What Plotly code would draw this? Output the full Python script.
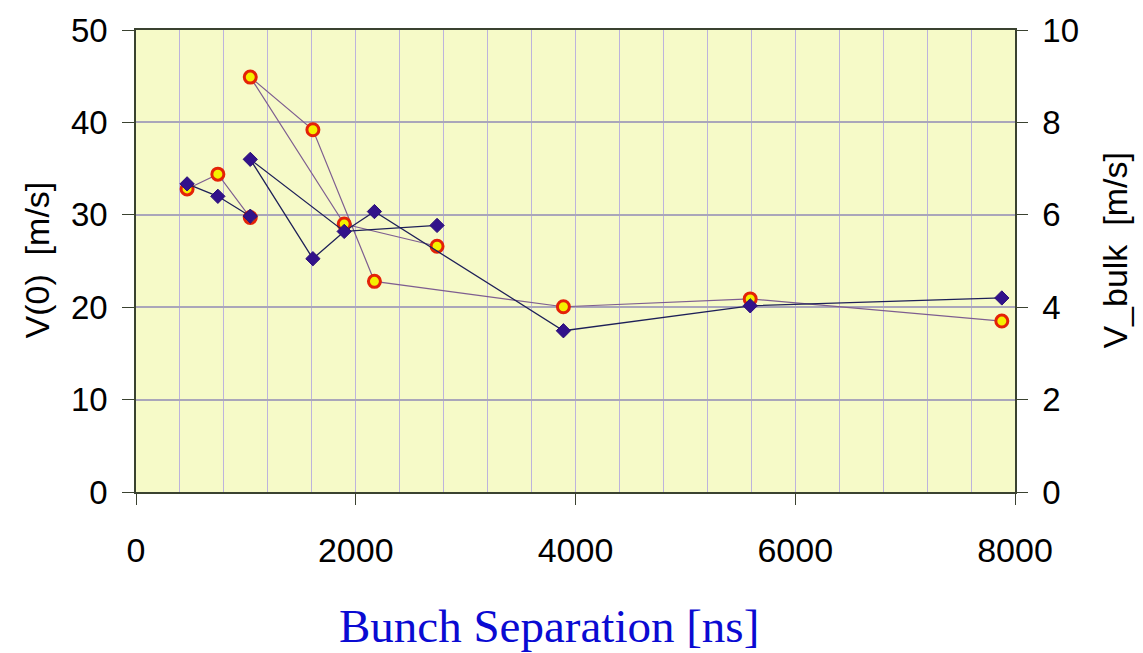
import plotly.graph_objects as go

# ---- data ----
bunch_sep_ns = [465, 745, 1040, 1040, 1610, 1895, 2170, 2740, 3890, 5590, 7880]
v0_ms = [32.8, 34.4, 29.7, 44.9, 39.2, 29.0, 22.8, 26.6, 20.05, 20.9, 18.5]
vbulk_ms = [6.67, 6.40, 5.97, 7.20, 5.05, 5.64, 6.07, 5.77, 3.49, 4.03, 4.20]

# connection paths (indices into the arrays above)
v0_paths = [[0, 1, 2], [3, 4, 6, 8, 9, 10], [3, 5, 7]]
vbulk_paths = [[0, 1, 2], [3, 4, 5, 6, 8, 9, 10], [3, 5, 7]]

x_ticks = [0, 2000, 4000, 6000, 8000]
y_left_ticks = [0, 10, 20, 30, 40, 50]
y_right_ticks = [0, 2, 4, 6, 8, 10]


def path_xy(xs, ys, paths):
    px, py = [], []
    for p in paths:
        for i in p:
            px.append(xs[i])
            py.append(ys[i])
        px.append(None)
        py.append(None)
    return px, py


FONT = "Liberation Sans, Arial, sans-serif"
AXIS_COL = "#3a4230"
VGRID = "#bdb3dc"

fig = go.Figure()

lx, ly = path_xy(bunch_sep_ns, v0_ms, v0_paths)
fig.add_trace(go.Scatter(x=lx, y=ly, mode="lines", yaxis="y",
                         line=dict(color="#7e5e90", width=1.2),
                         hoverinfo="skip", showlegend=False))
fig.add_trace(go.Scatter(x=bunch_sep_ns, y=v0_ms, mode="markers", yaxis="y",
                         name="V(0)",
                         marker=dict(symbol="circle", size=12, color="#f4f000",
                                     line=dict(color="#e42208", width=3)),
                         showlegend=False))

bx, by = path_xy(bunch_sep_ns, vbulk_ms, vbulk_paths)
fig.add_trace(go.Scatter(x=bx, y=by, mode="lines", yaxis="y2",
                         line=dict(color="#1e2058", width=1.3),
                         hoverinfo="skip", showlegend=False))
fig.add_trace(go.Scatter(x=bunch_sep_ns, y=vbulk_ms, mode="markers", yaxis="y2",
                         name="V_bulk",
                         marker=dict(symbol="diamond", size=11, color="#32128a",
                                     line=dict(color="#2a0e78", width=1)),
                         showlegend=False))

fig.update_layout(
    width=1143, height=653,
    margin=dict(l=136, r=128, t=25, b=161, pad=0),
    paper_bgcolor="white",
    plot_bgcolor="#f6fac8",
    font=dict(family=FONT, color="black", size=33),
    showlegend=False,
    xaxis=dict(
        range=[0, 8000], tickvals=x_ticks, ticktext=[str(t) for t in x_ticks],
        showgrid=True, gridcolor=VGRID, gridwidth=1.2,
        minor=dict(dtick=400, tick0=0, showgrid=True, gridcolor=VGRID,
                   gridwidth=1.2, ticks=""),
        ticks="outside", ticklen=11, tickwidth=1.2, tickcolor=AXIS_COL,
        showline=True, linecolor=AXIS_COL, linewidth=1.5, mirror=True,
        zeroline=False, ticklabelstandoff=16,
        tickfont=dict(family=FONT, size=34, color="black"),
    ),
    yaxis=dict(
        range=[0, 50], tickvals=y_left_ticks,
        showgrid=True, gridcolor="#aaa6ba", gridwidth=2,
        ticks="outside", ticklen=12, tickwidth=1.2, tickcolor=AXIS_COL,
        showline=True, linecolor=AXIS_COL, linewidth=1.5,
        zeroline=False, ticklabelstandoff=8,
        tickfont=dict(family=FONT, size=33, color="black"),
    ),
    yaxis2=dict(
        range=[0, 10], tickvals=y_right_ticks, overlaying="y", side="right",
        showgrid=False,
        ticks="outside", ticklen=11, tickwidth=1.2, tickcolor=AXIS_COL,
        showline=True, linecolor=AXIS_COL, linewidth=1.5,
        zeroline=False, ticklabelstandoff=8,
        tickfont=dict(family=FONT, size=33, color="black"),
    ),
    annotations=[
        dict(text="V(0)  [m/s]", x=37, y=653 - 258, xref="paper", yref="paper",
             showarrow=False, textangle=-90, xanchor="center", yanchor="middle",
             font=dict(family=FONT, size=34, color="black")),
        dict(text="V_bulk  [m/s]", x=1115, y=653 - 248, xref="paper", yref="paper",
             showarrow=False, textangle=-90, xanchor="center", yanchor="middle",
             font=dict(family=FONT, size=34, color="black")),
        dict(text="Bunch Separation [ns]", x=549, y=653 - 627, xref="paper",
             yref="paper", showarrow=False, xanchor="center", yanchor="middle",
             font=dict(family="Liberation Serif, Times New Roman, serif",
                       size=47, color="#0a0ad2")),
    ],
)

# convert pixel-based annotation coordinates to paper fractions
plot_w = 1143 - 136 - 128
plot_h = 653 - 25 - 161
for a in fig.layout.annotations:
    a.x = (a.x - 136) / plot_w
    a.y = (a.y - 161) / plot_h

fig.write_html("out.html")
